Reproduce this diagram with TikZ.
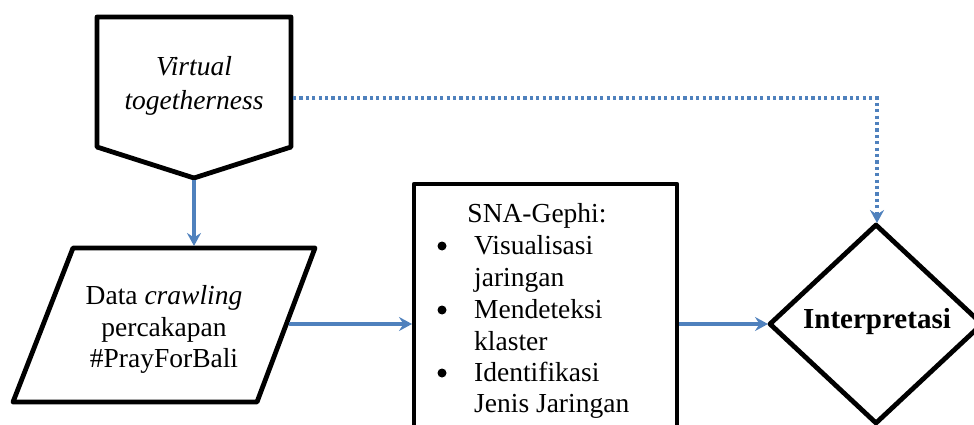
\documentclass[tikz,border=0pt]{standalone}
\usepackage{fontspec}
\setmainfont{Liberation Serif}
\usetikzlibrary{arrows.meta}
\definecolor{flowblue}{RGB}{79,129,189}
\begin{document}
\begin{tikzpicture}[x=1pt,y=-1pt,
  shapeline/.style={line width=4.8pt, line join=round, draw=black, fill=white},
  flow/.style={draw=flowblue, line width=3.2pt, -{Stealth[length=13pt,width=14pt,inset=4.5pt,flowblue]}},
  dotflow/.style={flow, dash pattern=on 3.2pt off 3.2pt},
  txt/.style={font=\fontsize{27.5}{32}\selectfont, inner sep=0pt, anchor=base},
  dot/.style={circle, fill=black, inner sep=0pt, minimum size=9pt},
  ]
\useasboundingbox (0,0) rectangle (974,425);
\clip (0,0) rectangle (974,425);

% shapes
\draw[shapeline] (97,17) -- (291,17) -- (291,147) -- (194,178) -- (97,147) -- cycle;
\draw[shapeline] (73,248) -- (315,248) -- (257,402) -- (13,402) -- cycle;
\draw[shapeline] (414,184) rectangle (677,470);
\draw[shapeline] (876,225) -- (982,324) -- (876,423) -- (770,324) -- cycle;

% connection points
\coordinate (pentTip) at (194,180);
\coordinate (pentRight) at (293,98);
\coordinate (paraRight) at (289,324);
\coordinate (paraTop) at (194,246);
\coordinate (boxLeft) at (412,324);
\coordinate (boxRight) at (679,324);
\coordinate (diaLeft) at (768,324);
\coordinate (bend) at (877,98);
\coordinate (diaTop) at (877,223);

% texts
\node[txt] (v1) at (194,76) {\itshape Virtual};
\node[txt] (v2) at (194,110) {\itshape togetherness};
\node[txt] (d1) at (164,304) {Data \itshape crawling};
\node[txt] (d2) at (164,336) {percakapan};
\node[txt] (d3) at (164,367) {\#PrayForBali};
\node[txt] (s0) at (537,222) {SNA-Gephi:};
\node[txt, anchor=base west] (s1) at (474,254) {Visualisasi};
\node[txt, anchor=base west] (s2) at (474,286) {jaringan};
\node[txt, anchor=base west] (s3) at (474,318) {Mendeteksi};
\node[txt, anchor=base west] (s4) at (474,350) {klaster};
\node[txt, anchor=base west] (s5) at (474,381) {Identifikasi};
\node[txt, anchor=base west] (s6) at (474,412) {Jenis Jaringan};
\node[dot] (b1) at (442,246) {};
\node[dot] (b2) at (442,310) {};
\node[dot] (b3) at (442,373) {};
\node[txt, font=\fontsize{29}{32}\selectfont\bfseries] (interp) at (877,328) {Interpretasi};

% connectors
\draw[flow] (pentTip) -- (paraTop);
\draw[flow] (paraRight) -- (boxLeft);
\draw[flow] (boxRight) -- (diaLeft);
\draw[dotflow] (pentRight) -- (bend) -- (diaTop);
\end{tikzpicture}
\end{document}
